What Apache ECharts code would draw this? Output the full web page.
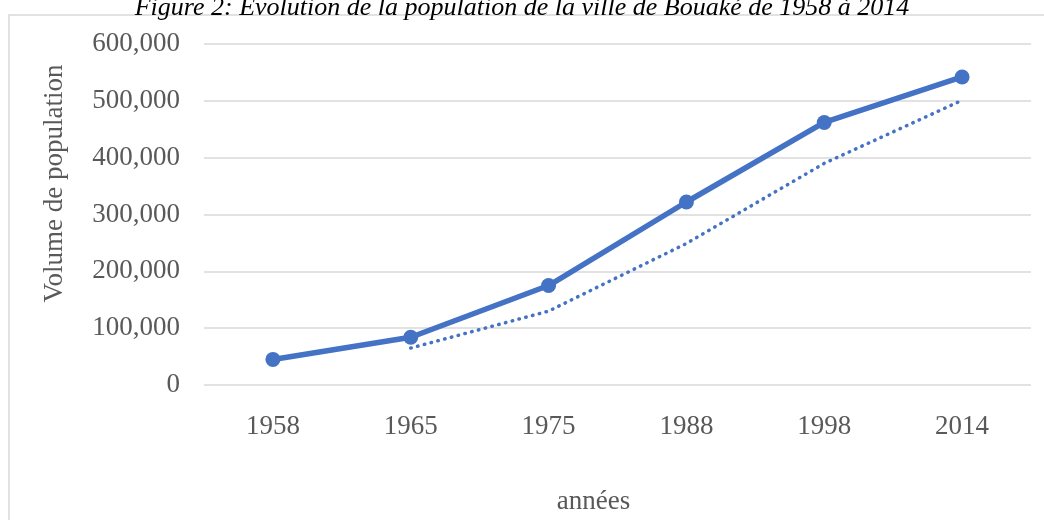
<!DOCTYPE html>
<html>
<head>
<meta charset="utf-8">
<style>
  html, body { margin: 0; padding: 0; background: #fff; }
  #chart { width: 1044px; height: 520px; }
</style>
<script src="https://cdn.jsdelivr.net/npm/echarts@6/dist/echarts.min.js"></script>
</head>
<body>
<div id="chart"></div>
<script>
// années du recensement
const years = ['1958', '1965', '1975', '1988', '1998', '2014']
// population de Bouaké
const population = [45000, 84000, 175000, 322000, 462000, 542000]
// courbe de tendance (pointillés), pas de valeur pour 1958
const trend = [null, 65000, 130000, 249000, 390000, 501000]
const yTicks = [0, 100000, 200000, 300000, 400000, 500000, 600000]

const serif = '"Liberation Serif", "Times New Roman", serif'
const textGray = '#595959'
const blue = '#4472C4'

const chart = echarts.init(document.getElementById('chart'))

const option = {
  animation: false,
  backgroundColor: '#fff',
  title: {
    text: 'Figure 2: Évolution de la population de la ville de Bouaké de 1958 à 2014',
    left: 'center',
    top: -10,
    textStyle: {
      fontFamily: serif,
      fontStyle: 'italic',
      fontWeight: 'normal',
      fontSize: 26,
      color: '#000'
    }
  },
  // cadre du graphique
  graphic: [
    {
      type: 'rect',
      shape: {x: 9, y: 15, width: 1100, height: 600},
      style: {fill: 'none', stroke: '#d9d9d9', lineWidth: 1.5},
      silent: true,
      z: -1
    }
  ],
  grid: {
    left: 204,
    right: 13,
    top: 44,
    bottom: 132,
    containLabel: false
  },
  xAxis: {
    type: 'category',
    data: years,
    boundaryGap: true,
    name: 'années',
    nameLocation: 'middle',
    nameGap: 103,
    nameTextStyle: {
      fontFamily: serif,
      fontSize: 27,
      color: textGray,
      padding: [0, 48, 0, 0]
    },
    axisLine: {show: false},
    axisTick: {show: false},
    axisLabel: {
      margin: 28,
      fontFamily: serif,
      fontSize: 27,
      color: textGray
    }
  },
  yAxis: {
    type: 'value',
    min: yTicks[0],
    max: yTicks[yTicks.length - 1],
    interval: yTicks[1] - yTicks[0],
    name: 'Volume de population',
    nameLocation: 'middle',
    nameGap: 136,
    nameTextStyle: {
      fontFamily: serif,
      fontSize: 27,
      color: textGray,
      padding: [0, 0, 0, 62]
    },
    axisLine: {show: false},
    axisTick: {show: false},
    axisLabel: {
      margin: 24,
      fontFamily: serif,
      fontSize: 27,
      color: textGray,
      formatter: (v) => v.toLocaleString('en-US')
    },
    splitLine: {
      lineStyle: {color: '#d9d9d9', width: 1.5}
    }
  },
  series: [
    {
      name: 'Population',
      type: 'line',
      data: population,
      symbol: 'circle',
      symbolSize: 15,
      itemStyle: {color: blue},
      lineStyle: {color: blue, width: 5.5},
      z: 3
    },
    {
      name: 'Tendance',
      type: 'line',
      data: trend,
      symbol: 'none',
      connectNulls: false,
      lineStyle: {
        color: blue,
        width: 3.5,
        type: [0.5, 6.5],
        cap: 'round'
      },
      z: 2
    }
  ]
}

chart.setOption(option)
</script>
</body>
</html>
